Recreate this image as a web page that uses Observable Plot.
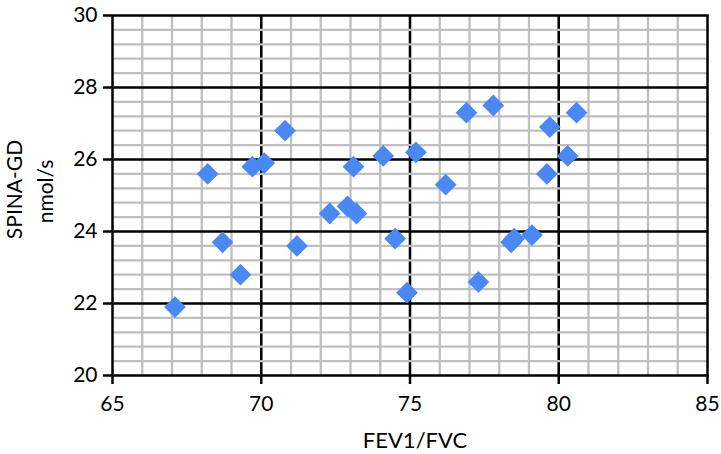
<!DOCTYPE html>
<html>
<head>
<meta charset="utf-8">
<script src="https://cdn.jsdelivr.net/npm/d3@7"></script>
<script src="https://cdn.jsdelivr.net/npm/@observablehq/plot@0.6"></script>
<style>
  html, body { margin: 0; padding: 0; background: #fff; }
</style>
</head>
<body>
<div id="chart"></div>
<script>
const fev1fvc = [67.1, 68.2, 68.7, 69.3, 69.7, 70.1, 70.8, 71.2, 72.3, 72.9, 73.2, 73.1, 74.1, 75.2, 74.5, 74.9, 76.2, 76.9, 77.8, 77.3, 78.4, 78.5, 79.1, 79.7, 80.6, 80.3, 79.6];
const spinaGD = [21.9, 25.6, 23.7, 22.8, 25.8, 25.9, 26.8, 23.6, 24.5, 24.7, 24.5, 25.8, 26.1, 26.2, 23.8, 22.3, 25.3, 27.3, 27.5, 22.6, 23.7, 23.8, 23.9, 26.9, 27.3, 26.1, 25.6];

const xTicks = [65, 70, 75, 80, 85];
const yTicks = [20, 22, 24, 26, 28, 30];
const xMinor = [66, 67, 68, 69, 70, 71, 72, 73, 74, 75, 76, 77, 78, 79, 80, 81, 82, 83, 84];
const yMinor = [20.4, 20.8, 21.2, 21.6, 22.4, 22.8, 23.2, 23.6, 24.4, 24.8, 25.2, 25.6, 26.4, 26.8, 27.2, 27.6, 28.4, 28.8, 29.2, 29.6];
const xMajorGrid = [70, 75, 80];
const yMajorGrid = [22, 24, 26, 28];

const xLabel = "FEV1/FVC";
const yLabel1 = "SPINA-GD";
const yLabel2 = "nmol/s";

const data = fev1fvc.map((x, i) => ({x, y: spinaGD[i]}));

const chart = Plot.plot({
  width: 721,
  height: 454,
  marginLeft: 112,
  marginRight: 14,
  marginTop: 15,
  marginBottom: 79,
  style: {fontFamily: "Lato, 'Open Sans', sans-serif", fontSize: "21px", background: "#fff", color: "#000"},
  x: {domain: [65, 85], axis: null},
  y: {domain: [20, 30], axis: null},
  marks: [
    Plot.ruleX(xMinor, {x: d => d, stroke: "#bfbfbf", strokeWidth: 2.3}),
    Plot.ruleX(xMajorGrid, {x: d => d, stroke: "#000", strokeWidth: 2.5}),
    Plot.ruleY(yMinor, {y: d => d, stroke: "#bfbfbf", strokeWidth: 2.3}),
    Plot.ruleY(yMajorGrid, {y: d => d, stroke: "#000", strokeWidth: 2.5}),
    Plot.frame({stroke: "#000", strokeWidth: 2.5}),
    Plot.axisX({ticks: xTicks, tickSize: 9, tickFormat: () => "", stroke: "#000", strokeWidth: 2.5, label: null}),
    Plot.axisY({ticks: yTicks, tickSize: 9, tickFormat: () => "", stroke: "#000", strokeWidth: 2.5, label: null}),
    Plot.text(xTicks, {x: d => d, text: d => String(d), frameAnchor: "bottom", dy: 29, lineAnchor: "middle", fontSize: 21, fill: "#000"}),
    Plot.text(yTicks, {y: d => d, text: d => String(d), frameAnchor: "left", dx: -15, textAnchor: "end", lineAnchor: "middle", fontSize: 21, fill: "#000"}),
    Plot.text([xLabel], {text: d => d, frameAnchor: "bottom", dx: 5, dy: 65, textAnchor: "middle", lineAnchor: "middle", fontSize: 22, fill: "#000"}),
    Plot.text([yLabel1], {text: d => d, frameAnchor: "left", dx: -97, dy: -6, rotate: -90, textAnchor: "middle", lineAnchor: "middle", fontSize: 21, fill: "#000"}),
    Plot.text([yLabel2], {text: d => d, frameAnchor: "left", dx: -66, dy: -4, rotate: -90, textAnchor: "middle", lineAnchor: "middle", fontSize: 21, fill: "#000"}),
    Plot.dot(data, {x: "x", y: "y", symbol: "diamond2", r: 9.8, fill: "#4a89f3", stroke: "none"})
  ]
});
document.getElementById("chart").appendChild(chart);
</script>
</body>
</html>
